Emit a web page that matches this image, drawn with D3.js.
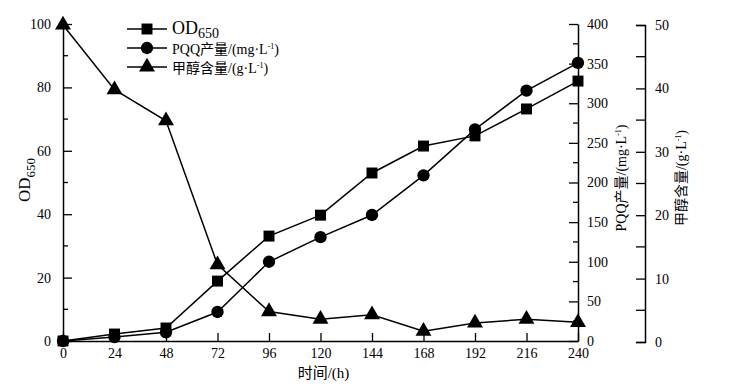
<!DOCTYPE html>
<html>
<head>
<meta charset="utf-8">
<script src="https://cdn.jsdelivr.net/npm/d3@7"></script>
<style>
  body { margin: 0; background: #fff; }
  text { font-family: "Liberation Serif", "Noto Sans CJK SC", serif; fill: #000; }
</style>
</head>
<body>
<div id="chart"></div>
<script>
// hours
const hours = [0, 24, 48, 72, 96, 120, 144, 168, 192, 216, 240];
// OD650 (left axis)
const od650 = [0, 2.2, 4.1, 18.9, 33.1, 39.7, 53, 61.5, 64.7, 73.2, 82];
// PQQ 产量 mg/L (right axis 1)
const pqq = [0, 5, 11, 36.6, 100, 131, 159, 209, 267, 316, 351];
// 甲醇含量 g/L (right axis 2)
const methanol = [50, 39.8, 34.9, 12.2, 4.8, 3.6, 4.3, 1.7, 3, 3.6, 3.1];

const xTicks = hours;
const leftTicks = [0, 20, 40, 60, 80, 100];
const pqqTicks = [0, 50, 100, 150, 200, 250, 300, 350, 400];
const methTicks = [0, 10, 20, 30, 40, 50];

const W = 733, H = 387;
const svg = d3.select("#chart").append("svg")
  .attr("width", W).attr("height", H);

const x = d3.scaleLinear().domain([0, 240]).range([63, 578]);
const yL = d3.scaleLinear().domain([0, 100]).range([341, 24]);
const yP = d3.scaleLinear().domain([0, 400]).range([341, 24]);
const yM = d3.scaleLinear().domain([0, 50]).range([342, 25]);

const fontSize = "14px";

// helper for minor ticks
function minorTicks(g, scale, values, dir, len) {
  g.selectAll(null).data(values).enter().append("line")
    .attr("x1", 0).attr("x2", dir * len)
    .attr("y1", d => scale(d)).attr("y2", d => scale(d))
    .attr("stroke", "#000").attr("stroke-width", 1.3);
}

// X axis
const gx = svg.append("g").attr("transform", "translate(0,341)")
  .call(d3.axisBottom(x).tickValues(xTicks).tickSize(-8).tickPadding(7).tickSizeOuter(0));
gx.select(".domain").attr("stroke-width", 1.5);
gx.selectAll(".tick line").attr("stroke-width", 1.3);
gx.selectAll("text").style("font-size", fontSize);
svg.append("text").attr("x", x(120) + 3).attr("y", 378)
  .attr("text-anchor", "middle").style("font-size", "15px").text("时间/(h)");

// Left axis
const gl = svg.append("g").attr("transform", "translate(63,0)")
  .call(d3.axisLeft(yL).tickValues(leftTicks).tickSize(-9).tickPadding(12).tickSizeOuter(0));
gl.select(".domain").attr("stroke-width", 1.5);
gl.selectAll(".tick line").attr("stroke-width", 1.3);
gl.selectAll("text").style("font-size", fontSize);
minorTicks(gl, yL, [10, 30, 50, 70, 90], 1, 5);
const odTitle = svg.append("text")
  .attr("transform", "translate(30,180) rotate(-90)")
  .attr("text-anchor", "middle").style("font-size", "17px");
odTitle.append("tspan").text("OD");
odTitle.append("tspan").attr("dy", 5).style("font-size", "13px").text("650");

// Right axis 1 (PQQ)
const gp = svg.append("g").attr("transform", "translate(578,0)")
  .call(d3.axisRight(yP).tickValues(pqqTicks).tickSize(-9).tickPadding(9).tickSizeOuter(0));
gp.select(".domain").attr("stroke-width", 1.5);
gp.selectAll(".tick line").attr("stroke-width", 1.3);
gp.selectAll("text").style("font-size", fontSize);
minorTicks(gp, yP, [25, 75, 125, 175, 225, 275, 325, 375], -1, 5);
svg.append("text")
  .attr("transform", "translate(626,178) rotate(-90)")
  .attr("text-anchor", "middle").style("font-size", "14px")
  .html('PQQ产量/(mg·L<tspan dy="-5" font-size="8px">-1</tspan><tspan dy="5">)</tspan>');

// Right axis 2 (methanol)
const gm = svg.append("g").attr("transform", "translate(645,0)")
  .call(d3.axisRight(yM).tickValues(methTicks).tickSize(-9).tickPadding(10).tickSizeOuter(-9));
gm.select(".domain").attr("stroke-width", 1.5);
gm.selectAll(".tick line").attr("stroke-width", 1.3);
gm.selectAll("text").style("font-size", fontSize);
minorTicks(gm, yM, [5, 15, 25, 35, 45], -1, 9);
svg.append("text")
  .attr("transform", "translate(686,178) rotate(-90)")
  .attr("text-anchor", "middle").style("font-size", "14px")
  .html('甲醇含量/(g·L<tspan dy="-5" font-size="8px">-1</tspan><tspan dy="5">)</tspan>');

// series
const series = [
  { name: "meth", values: methanol, y: yM, symbol: d3.symbolTriangle, size: 110 },
  { name: "pqq", values: pqq, y: yP, symbol: d3.symbolCircle, size: 120 },
  { name: "od", values: od650, y: yL, symbol: d3.symbolSquare, size: 120 }
];

series.forEach(s => {
  const pts = hours.map((h, i) => [x(h), s.y(s.values[i])]);
  svg.append("path").datum(pts)
    .attr("d", d3.line())
    .attr("fill", "none").attr("stroke", "#000").attr("stroke-width", 1.5);
  svg.selectAll(null).data(pts).enter().append("path")
    .attr("transform", d => `translate(${d[0]},${d[1]})`)
    .attr("d", d3.symbol().type(s.symbol).size(s.size))
    .attr("fill", "#000");
});

// legend
const legend = svg.append("g").attr("transform", "translate(127,0)");
const legendRows = [
  { symbol: d3.symbolSquare, y: 29 },
  { symbol: d3.symbolCircle, y: 48 },
  { symbol: d3.symbolTriangle, y: 67 }
];
legendRows.forEach(r => {
  legend.append("line").attr("x1", 0).attr("x2", 40)
    .attr("y1", r.y).attr("y2", r.y).attr("stroke", "#000").attr("stroke-width", 1.5);
  legend.append("path").attr("transform", `translate(20,${r.y})`)
    .attr("d", d3.symbol().type(r.symbol).size(r.symbol === d3.symbolTriangle ? 110 : 120))
    .attr("fill", "#000");
});
const t1 = legend.append("text").attr("x", 45).attr("y", 34).style("font-size", "18px");
t1.append("tspan").text("OD");
t1.append("tspan").attr("dy", 4).style("font-size", "14px").text("650");
legend.append("text").attr("x", 45).attr("y", 54).style("font-size", "14px")
  .html('PQQ产量/(mg·L<tspan dy="-5" font-size="8px">-1</tspan><tspan dy="5">)</tspan>');
legend.append("text").attr("x", 45).attr("y", 73).style("font-size", "14px")
  .html('甲醇含量/(g·L<tspan dy="-5" font-size="8px">-1</tspan><tspan dy="5">)</tspan>');
</script>
</body>
</html>
